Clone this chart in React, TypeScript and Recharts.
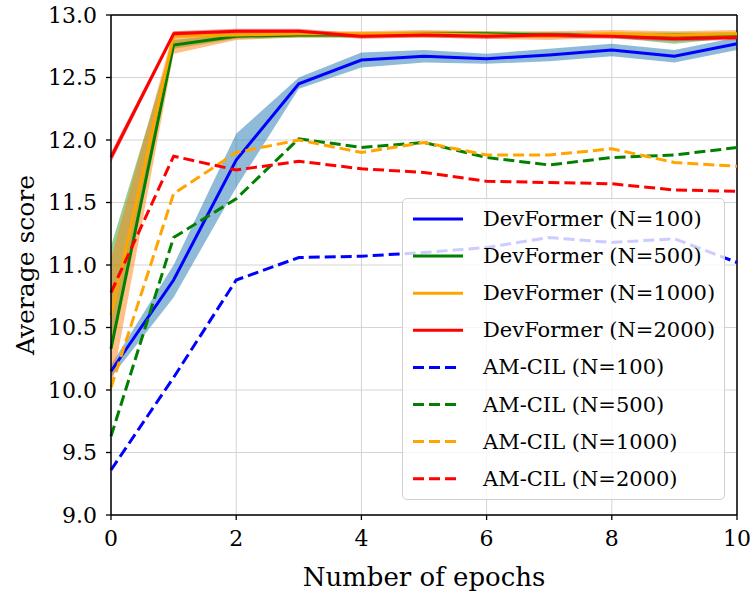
import {
  ComposedChart,
  Line,
  Area,
  XAxis,
  YAxis,
  CartesianGrid,
  ReferenceLine,
} from "recharts";

const epochs = [0, 1, 2, 3, 4, 5, 6, 7, 8, 9, 10];

// DevFormer runs (mean + shaded band)
const devFormer100 = [10.15, 10.88, 11.84, 12.45, 12.64, 12.67, 12.65, 12.68, 12.72, 12.67, 12.77];
const devFormer100Low = [10.1, 10.74, 11.62, 12.41, 12.58, 12.62, 12.61, 12.63, 12.67, 12.62, 12.72];
const devFormer100High = [10.2, 11.0, 12.05, 12.5, 12.7, 12.72, 12.69, 12.73, 12.77, 12.72, 12.82];

const devFormer500 = [10.33, 12.76, 12.83, 12.84, 12.84, 12.85, 12.85, 12.84, 12.84, 12.84, 12.84];
const devFormer500Low = [10.33, 12.73, 12.81, 12.82, 12.82, 12.83, 12.83, 12.82, 12.82, 12.77, 12.82];
const devFormer500High = [11.15, 12.8, 12.85, 12.86, 12.86, 12.87, 12.87, 12.86, 12.86, 12.86, 12.86];

const devFormer1000 = [10.6, 12.83, 12.84, 12.85, 12.85, 12.85, 12.84, 12.83, 12.85, 12.84, 12.85];
const devFormer1000Low = [10.0, 12.69, 12.8, 12.82, 12.82, 12.82, 12.81, 12.8, 12.82, 12.8, 12.82];
const devFormer1000High = [11.05, 12.87, 12.87, 12.87, 12.87, 12.88, 12.87, 12.87, 12.88, 12.87, 12.88];

const devFormer2000 = [11.86, 12.85, 12.87, 12.87, 12.83, 12.84, 12.83, 12.84, 12.83, 12.81, 12.82];
const devFormer2000Low = [11.82, 12.83, 12.85, 12.85, 12.81, 12.82, 12.81, 12.82, 12.81, 12.79, 12.8];
const devFormer2000High = [11.9, 12.87, 12.89, 12.89, 12.85, 12.86, 12.85, 12.86, 12.85, 12.83, 12.84];

// AM-CIL baselines
const amCil100 = [9.36, 10.1, 10.88, 11.06, 11.07, 11.1, 11.14, 11.22, 11.18, 11.21, 11.02];
const amCil500 = [9.63, 11.22, 11.53, 12.01, 11.94, 11.98, 11.86, 11.8, 11.86, 11.88, 11.94];
const amCil1000 = [10.02, 11.57, 11.9, 12.0, 11.9, 11.98, 11.88, 11.88, 11.93, 11.82, 11.79];
const amCil2000 = [10.78, 11.87, 11.76, 11.83, 11.77, 11.74, 11.67, 11.66, 11.65, 11.6, 11.59];

const yTicks = [9.0, 9.5, 10.0, 10.5, 11.0, 11.5, 12.0, 12.5, 13.0];
const xTicks = [0, 2, 4, 6, 8, 10];

const FONT = "DejaVu Serif";

const series = [
  { key: "dev100", name: "DevFormer (N=100)", color: "#0000ff", band: "#1f77b4", dashed: false },
  { key: "dev500", name: "DevFormer (N=500)", color: "#008000", band: "#2ca02c", dashed: false },
  { key: "dev1000", name: "DevFormer (N=1000)", color: "#ffa500", band: "#ff7f0e", dashed: false },
  { key: "dev2000", name: "DevFormer (N=2000)", color: "#ff0000", band: "#d62728", dashed: false },
  { key: "am100", name: "AM-CIL (N=100)", color: "#0000ff", band: "", dashed: true },
  { key: "am500", name: "AM-CIL (N=500)", color: "#008000", band: "", dashed: true },
  { key: "am1000", name: "AM-CIL (N=1000)", color: "#ffa500", band: "", dashed: true },
  { key: "am2000", name: "AM-CIL (N=2000)", color: "#ff0000", band: "", dashed: true },
];

const data = epochs.map((epoch, i) => ({
  epoch,
  dev100: devFormer100[i],
  dev100Band: [devFormer100Low[i], devFormer100High[i]],
  dev500: devFormer500[i],
  dev500Band: [devFormer500Low[i], devFormer500High[i]],
  dev1000: devFormer1000[i],
  dev1000Band: [devFormer1000Low[i], devFormer1000High[i]],
  dev2000: devFormer2000[i],
  dev2000Band: [devFormer2000Low[i], devFormer2000High[i]],
  am100: amCil100[i],
  am500: amCil500[i],
  am1000: amCil1000[i],
  am2000: amCil2000[i],
}));

const DASH = "11 5";

function XTick({ x, y, payload }: any) {
  return (
    <text x={x} y={y + 8} textAnchor="middle" dominantBaseline="hanging" fontFamily={FONT} fontSize={22} fill="#000">
      {payload.value}
    </text>
  );
}

function YTick({ x, y, payload }: any) {
  return (
    <text x={x} y={y} textAnchor="end" dominantBaseline="central" fontFamily={FONT} fontSize={22} fill="#000">
      {Number(payload.value).toFixed(1)}
    </text>
  );
}

function YLabel({ viewBox }: any) {
  const x = 25;
  const y = viewBox.y + viewBox.height / 2;
  return (
    <text
      x={x}
      y={y}
      transform={`rotate(-90 ${x} ${y})`}
      textAnchor="middle"
      dominantBaseline="central"
      fontFamily={FONT}
      fontSize={25}
      fill="#000"
    >
      Average score
    </text>
  );
}

function XLabel({ viewBox }: any) {
  const x = viewBox.x + viewBox.width / 2;
  return (
    <text
      x={x}
      y={577}
      textAnchor="middle"
      dominantBaseline="central"
      fontFamily={FONT}
      fontSize={26}
      fill="#000"
    >
      Number of epochs
    </text>
  );
}

function LegendBox() {
  const rowGap = 37.1;
  return (
    <div
      style={{
        position: "absolute",
        left: 402,
        top: 198,
        width: 323,
        height: 302,
        background: "rgba(255,255,255,0.8)",
        border: "1px solid #d0d0d0",
        borderRadius: 5,
        boxSizing: "border-box",
      }}
    >
      <svg width={323} height={302} style={{ display: "block" }}>
        {series.map((s, i) => {
          const y = 20 + i * rowGap;
          return (
            <g key={s.key}>
              <line
                x1={10}
                x2={s.dashed ? 58 : 60}
                y1={y}
                y2={y}
                stroke={s.color}
                strokeWidth={3}
                strokeDasharray={s.dashed ? DASH : undefined}
              />
              <text
                x={80}
                y={y}
                dominantBaseline="central"
                fontFamily={FONT}
                fontSize={21}
                fill="#000"
              >
                {s.name}
              </text>
            </g>
          );
        })}
      </svg>
    </div>
  );
}

export default function App() {
  return (
    <div style={{ position: "absolute", left: 0, top: 0, width: 754, height: 593, background: "#fff" }}>
      <ComposedChart
        width={754}
        height={593}
        data={data}
        margin={{ top: 15, right: 17, bottom: 0, left: 0 }}
      >
        <CartesianGrid stroke="#d4d4d4" strokeWidth={1} />
        <XAxis
          dataKey="epoch"
          type="number"
          domain={[0, 10]}
          ticks={xTicks}
          height={78}
          tickSize={5}
          tick={<XTick />}
          tickLine={{ stroke: "#000", strokeWidth: 1.3 }}
          axisLine={{ stroke: "#000", strokeWidth: 1.5 }}
          label={<XLabel />}
        />
        <YAxis
          type="number"
          domain={[9, 13]}
          ticks={yTicks}
          width={111}
          tickSize={5}
          tickMargin={9}
          tick={<YTick />}
          tickLine={{ stroke: "#000", strokeWidth: 1.3 }}
          axisLine={{ stroke: "#000", strokeWidth: 1.5 }}
          label={<YLabel />}
        />
        <ReferenceLine y={13} stroke="#000" strokeWidth={1.5} />
        <ReferenceLine x={10} stroke="#000" strokeWidth={1.5} />
        {series
          .filter((s) => !s.dashed)
          .map((s) => (
            <Area
              key={s.key + "Band"}
              type="linear"
              dataKey={s.key + "Band"}
              stroke="none"
              fill={s.band}
              fillOpacity={0.5}
              isAnimationActive={false}
              activeDot={false}
            />
          ))}
        {series
          .filter((s) => !s.dashed)
          .map((s) => (
            <Line
              key={s.key}
              type="linear"
              dataKey={s.key}
              stroke={s.color}
              strokeWidth={3}
              dot={false}
              activeDot={false}
              isAnimationActive={false}
            />
          ))}
        {series
          .filter((s) => s.dashed)
          .map((s) => (
            <Line
              key={s.key}
              type="linear"
              dataKey={s.key}
              stroke={s.color}
              strokeWidth={3}
              strokeDasharray={DASH}
              dot={false}
              activeDot={false}
              isAnimationActive={false}
            />
          ))}
      </ComposedChart>
      <LegendBox />
    </div>
  );
}
